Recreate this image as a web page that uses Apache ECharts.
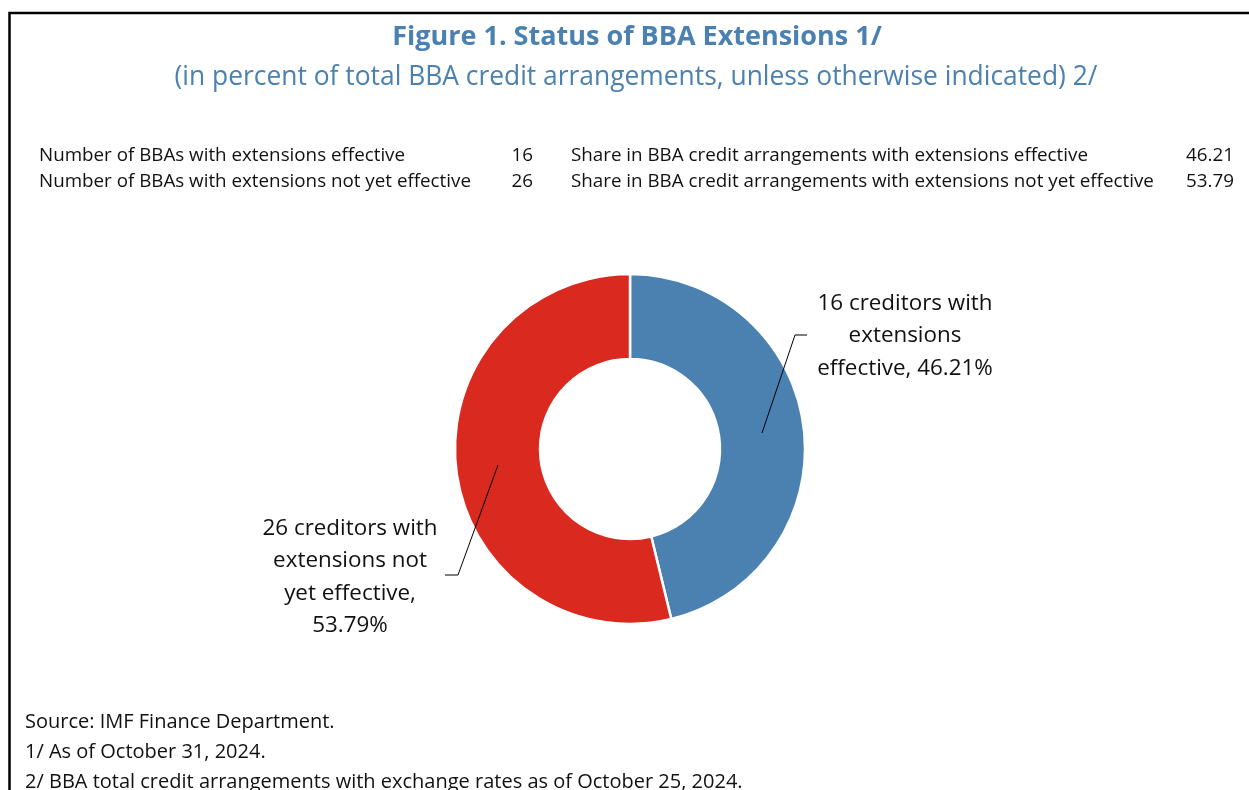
<!DOCTYPE html>
<html><head><meta charset="utf-8">
<script src="https://cdn.jsdelivr.net/npm/echarts@6/dist/echarts.min.js"></script>
<style>html,body{margin:0;padding:0;background:#fff}#c{width:1249px;height:790px}</style>
</head><body><div id="c"></div>
<script>
const categories = ['16 creditors with\nextensions\neffective, 46.21%', '26 creditors with\nextensions not\nyet effective,\n53.79%'];
const shares = [46.21, 53.79];
const colors = ['#4a81b0', '#da291f'];
const tableLeft = ['Number of BBAs with extensions effective', 'Number of BBAs with extensions not yet effective'];
const tableLeftVals = ['16', '26'];
const tableRight = ['Share in BBA credit arrangements with extensions effective', 'Share in BBA credit arrangements with extensions not yet effective'];
const tableRightVals = ['46.21', '53.79'];
const notes = ['Source: IMF Finance Department.', '1/ As of October 31, 2024.', '2/ BBA total credit arrangements with exchange rates as of October 25, 2024.'];

const FONT = '"Open Sans", "Noto Sans", sans-serif';
const chart = echarts.init(document.getElementById('c'), null, {renderer: 'canvas'});
const graphics = [];
graphics.push({type: 'polyline', shape: {points: [[9.5, 790], [9.5, 13], [1249, 13]]}, style: {stroke: '#000', lineWidth: 2.5, fill: null}, silent: true});
graphics.push({type: 'text', x: 637, y: 37, style: {text: 'Figure 1. Status of BBA Extensions 1/', font: 'bold 27px ' + FONT, fill: '#4a81b0', align: 'center', verticalAlign: 'middle'}});
graphics.push({type: 'text', x: 636, y: 77, style: {text: '(in percent of total BBA credit arrangements, unless otherwise indicated) 2/', font: '26.4px ' + FONT, fill: '#4a81b0', align: 'center', verticalAlign: 'middle'}});
tableLeft.forEach((t, i) => {
  const y = 156 + i * 26;
  graphics.push({type: 'text', x: 39, y: y, style: {text: t, font: '18.8px ' + FONT, fill: '#111', verticalAlign: 'middle'}});
  graphics.push({type: 'text', x: 533, y: y, style: {text: tableLeftVals[i], font: '18.8px ' + FONT, fill: '#111', align: 'right', verticalAlign: 'middle'}});
  graphics.push({type: 'text', x: 571, y: y, style: {text: tableRight[i], font: '18.8px ' + FONT, fill: '#111', verticalAlign: 'middle'}});
  graphics.push({type: 'text', x: 1234, y: y, style: {text: tableRightVals[i], font: '18.8px ' + FONT, fill: '#111', align: 'right', verticalAlign: 'middle'}});
});
notes.forEach((t, i) => {
  graphics.push({type: 'text', x: 25, y: 722 + i * 30, style: {text: t, font: '20px ' + FONT, fill: '#111', verticalAlign: 'middle'}});
});
// leader lines (annotations drawn above the ring)
graphics.push({type: 'polyline', z: 100, shape: {points: [[762, 433], [795, 335], [807, 335]]}, style: {stroke: '#000', lineWidth: 1, fill: null}, silent: true});
graphics.push({type: 'polyline', z: 100, shape: {points: [[498, 465], [458, 575], [445, 575]]}, style: {stroke: '#000', lineWidth: 1, fill: null}, silent: true});

chart.setOption({
  animation: false,
  graphic: graphics,
  series: [{
    type: 'pie',
    center: [630, 449],
    radius: [90, 175],
    startAngle: 90,
    clockwise: true,
    itemStyle: {borderColor: '#fff', borderWidth: 2.5},
    label: {show: true, position: 'outside', formatter: '{b}', fontFamily: FONT, fontSize: 22.4, color: '#111', lineHeight: 32.3, align: 'center'},
    labelLine: {show: false},
    labelLayout: function (p) {
      if (p.dataIndex === 0) {
        return {x: 905, y: 336, align: 'center', verticalAlign: 'middle'};
      }
      return {x: 350, y: 577, align: 'center', verticalAlign: 'middle'};
    },
    data: categories.map((c, i) => ({name: c, value: shares[i], itemStyle: {color: colors[i]}}))
  }]
});
</script></body></html>
